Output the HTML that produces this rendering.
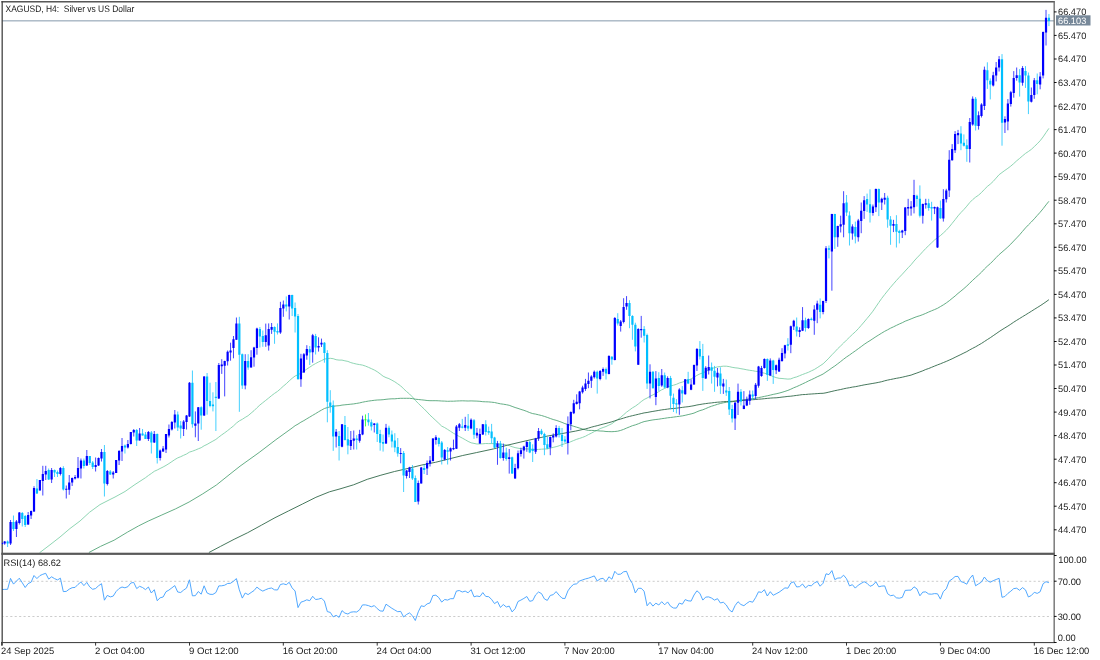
<!DOCTYPE html><html><head><meta charset="utf-8"><title>XAGUSD, H4</title>
<style>html,body{margin:0;padding:0;background:#fff}svg{display:block}text{font-family:"Liberation Sans",sans-serif;font-size:9.4px;fill:#1a1a1a;text-rendering:geometricPrecision}</style></head><body>
<svg width="1100" height="660" viewBox="0 0 1100 660">
<rect width="1100" height="660" fill="#fff"/>
<rect x="2" y="20.1" width="1052.0" height="1.4" fill="#a8b6c4"/>
<polyline points="39.5,552.8 50.0,544.8 60.0,537.0 70.0,528.5 80.0,521.0 89.5,512.3 100.0,504.6 110.0,499.5 115.0,497.0 125.0,491.5 135.0,484.5 145.5,477.7 148.4,475.5 151.3,473.5 154.3,471.3 157.2,470.0 160.1,468.5 163.1,467.0 166.0,465.4 168.9,463.6 171.9,461.6 174.8,459.6 177.7,457.9 180.7,456.7 183.6,455.3 186.5,454.0 189.5,452.1 192.4,451.2 195.3,450.1 198.3,448.8 201.2,447.7 204.1,445.8 207.1,444.4 210.0,442.7 212.9,441.1 215.9,439.4 218.8,437.1 221.7,434.9 224.7,432.8 227.6,430.6 230.5,428.3 233.5,425.9 236.4,423.1 239.3,420.9 242.3,419.3 245.2,417.4 248.1,415.7 251.1,413.1 254.0,410.7 256.9,407.8 259.9,405.0 262.8,402.7 265.7,400.4 268.7,398.0 271.6,395.6 274.5,393.4 277.5,391.4 280.4,388.9 283.3,386.2 286.3,383.7 289.2,380.9 292.1,378.3 295.1,376.0 298.0,374.7 300.9,373.2 303.9,371.1 306.8,369.1 309.7,367.2 312.7,365.2 315.6,363.5 318.5,362.0 321.5,360.6 324.4,359.1 327.3,358.6 330.3,358.3 333.2,358.7 336.1,359.7 339.1,360.1 342.0,360.1 344.9,360.8 347.9,361.4 350.8,362.6 353.7,363.4 356.7,364.1 359.6,364.6 362.5,365.1 365.5,366.1 368.4,367.3 371.3,368.6 374.3,370.0 377.2,371.7 380.1,373.8 383.1,376.2 386.0,377.6 388.9,378.6 391.9,380.2 394.8,381.8 397.7,383.8 400.7,385.9 403.6,388.8 406.5,391.5 409.5,394.0 412.4,396.9 415.3,400.3 418.3,403.4 421.2,406.2 424.1,408.9 427.1,412.0 430.0,415.1 432.9,417.8 435.9,420.6 438.8,423.3 441.7,426.1 444.7,427.6 447.6,429.4 450.5,431.3 453.5,433.3 456.4,434.8 459.3,436.5 462.3,438.1 465.2,439.7 468.1,441.4 471.1,442.8 474.0,443.4 476.9,444.0 479.9,443.9 482.8,443.8 485.7,443.5 488.7,443.6 491.6,443.6 494.5,443.7 497.5,443.7 500.4,444.1 503.3,444.4 506.3,444.9 509.2,445.6 512.1,446.7 515.1,447.6 518.0,448.2 520.9,448.7 523.9,448.9 526.8,448.9 529.7,449.1 532.7,449.6 535.6,449.6 538.5,449.4 541.5,449.2 544.4,449.0 547.3,448.9 550.3,448.1 553.2,447.4 556.1,446.7 559.1,445.8 562.0,444.6 564.9,443.7 567.9,442.9 570.8,441.7 573.7,440.5 576.7,439.3 579.6,438.4 582.5,437.4 585.5,436.2 588.4,434.6 591.3,433.2 594.3,431.6 597.2,430.2 600.1,428.6 603.1,427.5 606.0,426.5 608.9,425.1 611.9,423.7 614.8,421.5 617.7,419.6 620.7,417.3 623.6,414.8 626.5,412.2 629.5,410.0 632.4,407.9 635.3,406.2 638.3,404.0 641.2,401.6 644.1,399.5 647.1,398.0 650.0,396.3 652.9,394.9 655.9,393.4 658.8,391.6 661.7,389.8 664.7,388.4 667.6,387.0 670.5,386.0 673.5,385.2 676.4,384.3 679.3,383.0 682.3,382.1 685.2,381.1 688.1,380.1 691.1,378.9 694.0,377.2 696.9,375.4 699.9,373.9 702.8,372.9 705.7,371.5 708.7,370.0 711.6,368.6 714.5,367.7 717.5,366.9 720.4,366.5 723.3,366.2 726.3,366.2 729.2,366.6 732.1,367.3 735.1,367.8 738.0,368.1 740.9,368.7 743.9,369.2 746.8,369.8 749.7,370.3 752.7,370.7 755.6,371.3 758.5,371.5 761.5,372.5 764.4,373.2 767.3,374.2 770.3,375.3 773.2,376.6 776.1,377.6 779.1,378.3 782.0,378.5 784.9,378.8 787.9,379.1 790.8,378.9 793.7,377.7 796.7,376.9 799.6,375.7 802.5,374.5 805.5,373.4 808.4,372.3 811.3,370.9 814.3,369.5 817.2,367.7 820.1,365.8 823.1,363.8 826.0,361.0 828.9,358.1 831.9,354.8 834.8,351.9 837.7,348.7 840.7,345.9 843.6,343.0 846.5,340.1 849.5,337.2 852.4,334.4 855.3,331.8 858.3,328.7 861.2,325.4 864.1,322.0 867.1,318.4 870.0,314.9 872.9,311.2 875.9,306.8 878.8,302.5 881.7,298.4 884.7,294.5 887.6,290.9 890.5,287.3 893.5,283.8 896.4,280.5 899.3,277.3 902.3,274.2 905.2,271.0 908.1,267.8 911.1,264.7 914.0,261.1 916.9,257.9 919.9,254.8 922.8,251.6 925.7,248.5 928.7,245.6 931.6,242.8 934.5,240.0 937.5,237.7 940.4,235.6 943.3,233.0 946.3,230.2 949.2,227.0 952.1,223.4 955.1,219.7 958.0,215.9 960.9,212.6 963.9,209.5 966.8,206.2 969.7,202.6 972.7,199.6 975.6,197.2 978.5,195.2 981.5,192.5 984.4,189.4 987.3,186.5 990.3,184.1 993.2,181.4 996.1,178.1 999.1,174.7 1002.0,172.5 1004.9,170.4 1007.9,168.3 1010.8,166.1 1013.7,163.6 1016.7,160.8 1019.6,158.4 1022.5,155.9 1025.5,153.4 1028.4,151.5 1031.3,149.4 1034.3,146.6 1037.2,143.8 1040.1,140.8 1043.1,136.9 1046.0,132.6 1048.9,128.4" fill="none" stroke="#82d0aa" stroke-width="0.9" stroke-linejoin="round"/>
<polyline points="88.9,552.5 100.5,546.4 114.1,540.2 127.7,532.0 138.6,525.9 148.2,521.1 161.8,515.0 175.5,508.9 189.1,502.0 202.7,493.9 216.4,485.0 230.0,474.1 240.0,466.2 259.1,452.5 275.9,439.7 292.1,428.0 295.1,425.7 298.0,424.1 300.9,422.2 303.9,420.6 306.8,418.8 309.7,417.1 312.7,415.3 315.6,413.6 318.5,411.8 321.5,410.1 324.4,408.5 327.3,407.6 330.3,406.8 333.2,406.3 336.1,405.9 339.1,405.7 342.0,405.1 344.9,404.8 347.9,404.5 350.8,404.2 353.7,403.9 356.7,403.4 359.6,402.9 362.5,402.2 365.5,401.6 368.4,401.1 371.3,400.7 374.3,400.3 377.2,400.0 380.1,399.9 383.1,399.7 386.0,399.3 388.9,399.0 391.9,398.8 394.8,398.8 397.7,398.5 400.7,398.3 403.6,398.3 406.5,398.3 409.5,398.3 412.4,398.6 415.3,399.2 418.3,399.5 421.2,399.8 424.1,400.1 427.1,400.5 430.0,400.7 432.9,400.7 435.9,400.7 438.8,400.8 441.7,401.0 444.7,401.1 447.6,401.3 450.5,401.2 453.5,401.2 456.4,401.0 459.3,400.9 462.3,400.8 465.2,400.9 468.1,401.0 471.1,400.9 474.0,401.0 476.9,401.1 479.9,401.3 482.8,401.7 485.7,401.8 488.7,401.9 491.6,402.2 494.5,402.5 497.5,403.2 500.4,403.8 503.3,404.2 506.3,404.7 509.2,405.3 512.1,406.4 515.1,407.5 518.0,408.4 520.9,409.4 523.9,410.3 526.8,411.4 529.7,412.6 532.7,413.6 535.6,414.1 538.5,414.8 541.5,415.5 544.4,416.4 547.3,417.4 550.3,418.5 553.2,419.5 556.1,420.3 559.1,421.3 562.0,422.4 564.9,423.6 567.9,424.5 570.8,425.3 573.7,426.3 576.7,427.2 579.6,428.1 582.5,429.0 585.5,429.8 588.4,430.4 591.3,430.4 594.3,430.5 597.2,430.7 600.1,431.0 603.1,431.1 606.0,431.5 608.9,431.6 611.9,431.7 614.8,431.5 617.7,431.2 620.7,430.4 623.6,429.4 626.5,428.1 629.5,426.9 632.4,425.7 635.3,424.9 638.3,423.8 641.2,422.6 644.1,421.6 647.1,421.0 650.0,420.4 652.9,419.9 655.9,419.5 658.8,419.2 661.7,418.7 664.7,418.3 667.6,417.8 670.5,417.5 673.5,417.1 676.4,416.7 679.3,416.3 682.3,415.9 685.2,415.3 688.1,414.6 691.1,413.9 694.0,413.1 696.9,411.8 699.9,410.6 702.8,409.8 705.7,408.6 708.7,407.3 711.6,406.2 714.5,405.3 717.5,404.3 720.4,403.5 723.3,402.8 726.3,402.3 729.2,402.0 732.1,401.8 735.1,401.2 738.0,400.6 740.9,400.1 743.9,399.7 746.8,399.2 749.7,398.9 752.7,398.6 755.6,398.2 758.5,397.6 761.5,397.0 764.4,396.4 767.3,395.8 770.3,395.1 773.2,394.4 776.1,393.8 779.1,393.1 782.0,392.3 784.9,391.4 787.9,390.4 790.8,389.2 793.7,387.8 796.7,386.6 799.6,385.3 802.5,383.9 805.5,382.5 808.4,381.0 811.3,379.7 814.3,378.3 817.2,376.8 820.1,375.5 823.1,374.0 826.0,372.0 828.9,370.1 831.9,367.9 834.8,366.0 837.7,363.8 840.7,361.5 843.6,359.2 846.5,357.0 849.5,355.0 852.4,352.9 855.3,350.9 858.3,348.7 861.2,346.6 864.1,344.4 867.1,342.4 870.0,340.6 872.9,338.7 875.9,336.7 878.8,334.9 881.7,333.1 884.7,331.3 887.6,329.8 890.5,328.2 893.5,326.8 896.4,325.4 899.3,324.0 902.3,322.7 905.2,321.2 908.1,320.1 911.1,318.9 914.0,317.7 916.9,316.6 919.9,315.7 922.8,314.6 925.7,313.4 928.7,312.0 931.6,310.8 934.5,309.6 937.5,308.3 940.4,306.6 943.3,304.9 946.3,302.9 949.2,300.8 952.1,298.4 955.1,296.0 958.0,293.4 960.9,291.1 963.9,288.6 966.8,286.0 969.7,283.2 972.7,280.3 975.6,277.6 978.5,275.0 981.5,272.2 984.4,269.0 987.3,266.2 990.3,263.6 993.2,260.7 996.1,257.6 999.1,254.6 1002.0,252.1 1004.9,249.6 1007.9,246.9 1010.8,244.1 1013.7,241.0 1016.7,237.9 1019.6,234.8 1022.5,231.4 1025.5,227.9 1028.4,224.9 1031.3,222.0 1034.3,218.8 1037.2,215.5 1040.1,212.3 1043.1,208.7 1046.0,204.9 1048.9,201.3" fill="none" stroke="#55a578" stroke-width="0.9" stroke-linejoin="round"/>
<polyline points="208.9,552.5 220.5,546.4 234.1,539.3 247.7,532.7 261.4,525.2 275.0,517.7 288.6,510.9 302.3,504.1 315.9,497.3 329.5,491.8 340.0,488.9 353.6,484.8 367.3,479.3 380.9,475.2 394.5,471.5 408.2,468.4 421.8,465.0 435.5,462.3 449.1,458.9 462.7,455.5 476.4,452.6 493.6,448.9 507.3,445.2 520.9,442.0 534.5,438.9 548.2,435.9 561.8,433.6 575.5,431.1 585.5,428.9 588.4,428.1 591.3,427.2 594.3,426.4 597.2,425.7 600.1,424.9 603.1,424.1 606.0,423.4 608.9,422.6 611.9,421.8 614.8,420.8 617.7,419.8 620.7,419.0 623.6,418.1 626.5,417.2 629.5,416.4 632.4,415.7 635.3,415.0 638.3,414.3 641.2,413.6 644.1,412.9 647.1,412.5 650.0,411.9 652.9,411.4 655.9,410.9 658.8,410.4 661.7,409.9 664.7,409.5 667.6,409.1 670.5,408.7 673.5,408.5 676.4,408.2 679.3,407.8 682.3,407.4 685.2,407.0 688.1,406.7 691.1,406.2 694.0,405.7 696.9,405.0 699.9,404.5 702.8,404.0 705.7,403.6 708.7,403.2 711.6,402.9 714.5,402.5 717.5,402.2 720.4,402.0 723.3,401.7 726.3,401.5 729.2,401.4 732.1,401.3 735.1,401.1 738.0,400.9 740.9,400.7 743.9,400.4 746.8,400.2 749.7,399.9 752.7,399.7 755.6,399.5 758.5,399.2 761.5,399.0 764.4,398.7 767.3,398.4 770.3,398.1 773.2,397.9 776.1,397.8 779.1,397.5 782.0,397.1 784.9,396.8 787.9,396.4 790.8,396.2 793.7,395.8 796.7,395.4 799.6,395.0 802.5,394.6 805.5,394.5 808.4,394.2 811.3,394.0 814.3,393.8 817.2,393.6 820.1,393.4 823.1,393.3 826.0,392.8 828.9,392.1 831.9,391.4 834.8,390.7 837.7,390.1 840.7,389.5 843.6,388.8 846.5,388.2 849.5,387.7 852.4,387.1 855.3,386.7 858.3,386.1 861.2,385.5 864.1,384.9 867.1,384.4 870.0,383.9 872.9,383.4 875.9,382.9 878.8,382.3 881.7,381.7 884.7,380.8 887.6,380.1 890.5,379.5 893.5,378.9 896.4,378.3 899.3,377.8 902.3,377.2 905.2,376.5 908.1,375.8 911.1,375.1 914.0,374.0 916.9,373.0 919.9,371.9 922.8,370.8 925.7,369.5 928.7,368.5 931.6,367.3 934.5,366.1 937.5,364.9 940.4,363.8 943.3,362.6 946.3,361.4 949.2,360.1 952.1,358.8 955.1,357.3 958.0,355.9 960.9,354.5 963.9,353.0 966.8,351.6 969.7,349.9 972.7,348.3 975.6,346.8 978.5,345.1 981.5,343.4 984.4,341.5 987.3,339.6 990.3,337.7 993.2,335.7 996.1,333.7 999.1,331.6 1002.0,329.7 1004.9,327.9 1007.9,326.1 1010.8,324.2 1013.7,322.2 1016.7,320.3 1019.6,318.5 1022.5,316.7 1025.5,314.9 1028.4,313.1 1031.3,311.3 1034.3,309.4 1037.2,307.6 1040.1,305.8 1043.1,303.8 1046.0,301.8 1048.9,299.7" fill="none" stroke="#32694b" stroke-width="0.9" stroke-linejoin="round"/>
<path d="M4.68 541.0V544.8M10.55 520.0V545.0M16.42 520.0V537.0M19.35 512.0V524.5M28.15 512.0V525.0M31.08 510.5V519.0M34.02 486.2V512.0M39.88 480.0V490.5M42.82 465.8V495.5M45.75 465.8V480.0M51.62 468.0V483.0M60.42 467.0V475.5M66.28 485.5V498.5M69.22 475.0V494.8M72.15 477.5V486.0M75.08 475.0V479.5M78.02 457.0V478.5M80.95 458.5V478.5M86.82 450.0V466.0M95.62 457.5V471.5M98.55 457.5V466.0M101.48 449.0V461.5M107.35 470.0V485.5M113.22 471.0V478.5M116.15 460.0V473.0M119.08 450.0V465.0M122.02 438.0V461.0M127.88 440.0V448.5M130.82 432.0V444.5M133.75 429.0V436.5M139.62 428.0V440.5M148.42 431.0V441.0M154.28 431.0V443.0M160.15 449.5V460.5M163.08 446.0V452.0M166.02 434.0V453.0M168.95 424.5V437.5M171.88 421.0V430.5M174.82 410.0V428.5M183.62 420.0V436.0M186.55 415.0V429.5M189.48 382.0V417.0M195.35 411.4V437.3M198.28 407.0V441.0M204.15 376.0V416.0M218.82 363.0V399.0M221.75 359.2V373.9M224.68 360.7V396.4M227.62 350.5V365.5M230.55 342.7V360.7M233.48 336.0V358.3M236.42 317.5V340.0M245.22 354.2V389.3M251.08 350.2V367.6M254.02 346.8V366.7M256.95 327.7V354.7M265.75 323.6V346.8M268.68 323.4V350.6M271.62 323.0V333.9M280.42 301.8V333.9M283.35 300.5V316.8M289.22 294.7V319.5M300.95 353.8V386.8M303.88 353.0V372.8M306.82 345.2V359.7M312.68 333.9V362.7M318.55 337.3V351.6M321.48 338.6V347.0M336.15 429.0V447.5M342.02 424.0V447.3M350.82 431.0V450.0M353.75 430.5V449.5M359.62 429.8V442.7M362.55 415.7V435.2M374.28 423.0V432.5M386.02 423.9V444.0M400.68 448.1V463.3M406.55 470.0V478.5M409.48 466.8V478.0M418.28 480.5V504.5M421.22 467.0V483.5M427.08 460.5V475.0M430.02 456.0V466.5M432.95 438.0V461.5M435.88 435.2V444.6M444.68 449.0V460.5M450.55 447.5V460.5M453.48 439.6V450.1M456.42 425.0V449.0M459.35 423.0V431.0M465.22 416.8V431.0M471.08 418.4V429.3M476.95 428.0V438.2M479.88 428.6V443.8M482.82 424.0V435.0M497.48 440.9V464.8M503.35 443.6V460.7M509.22 449.0V473.6M515.08 463.8V478.8M518.02 450.5V469.5M520.95 447.7V456.6M523.88 445.7V458.6M526.82 440.9V451.8M535.62 437.9V453.9M538.55 428.0V440.9M550.28 436.5V455.2M553.22 433.4V442.3M556.15 425.2V437.5M567.88 416.4V454.5M570.82 411.4V430.3M573.75 399.8V414.1M576.68 394.3V404.5M579.62 390.9V409.3M582.55 385.7V393.6M585.48 378.9V390.9M588.42 372.5V388.2M591.35 375.2V387.9M594.28 370.5V378.6M600.15 370.0V380.3M603.08 367.5V375.9M608.95 355.2V374.4M614.82 317.0V360.4M620.68 320.0V331.6M623.62 298.2V323.4M626.55 296.1V309.8M638.28 328.2V365.0M641.22 315.9V337.7M650.02 364.3V398.4M655.88 371.1V405.2M661.75 369.0V386.8M667.62 376.3V388.2M679.35 388.2V414.8M685.22 379.0V394.7M691.08 379.3V390.2M694.02 364.5V384.8M696.95 348.0V371.0M705.75 366.2V379.0M708.68 355.5V374.5M717.48 368.0V386.4M723.35 378.9V393.9M735.08 402.0V430.0M738.02 383.6V415.0M743.88 391.1V409.2M746.82 396.6V406.1M749.75 390.5V404.8M755.62 383.0V399.3M758.55 365.9V387.7M761.48 365.9V376.8M764.42 358.4V368.6M770.28 358.4V376.1M776.15 364.5V374.1M779.08 357.7V372.0M782.02 348.2V361.8M784.95 344.8V358.4M790.82 325.6V353.2M793.75 319.8V330.0M799.62 327.3V337.1M802.55 307.1V331.1M808.42 318.4V328.9M814.28 305.2V334.8M817.22 300.7V323.2M823.08 300.7V314.3M826.02 246.1V303.0M831.88 213.8V290.7M837.75 225.7V246.8M840.68 215.7V232.5M843.62 191.2V237.3M852.42 224.3V239.7M858.28 218.9V241.6M861.22 202.5V233.2M864.15 196.1V218.9M872.95 204.5V215.7M875.88 188.5V212.0M881.75 197.7V210.0M884.68 193.0V204.5M893.48 219.8V232.1M902.28 229.8V238.0M905.22 207.0V235.2M908.15 198.8V215.7M911.08 201.1V215.7M914.02 179.8V213.4M922.82 203.5V223.6M925.75 198.8V208.6M934.55 206.6V214.1M937.48 206.6V247.9M943.35 189.2V221.6M946.28 188.8V202.5M949.22 150.2V197.0M952.15 144.1V160.7M955.08 131.1V153.0M958.02 129.9V144.1M969.75 118.0V162.5M972.68 96.4V125.7M978.55 111.4V129.6M981.48 103.2V117.5M984.42 66.6V110.0M993.22 71.8V86.5M996.15 62.0V81.4M999.08 56.1V71.5M1004.95 116.3V133.0M1007.88 99.1V130.3M1010.82 90.9V106.6M1013.75 71.1V97.7M1016.68 67.5V80.7M1022.55 66.1V85.7M1031.35 87.5V102.5M1034.28 78.0V98.8M1040.15 72.1V89.3M1043.08 31.5V78.4M1046.02 9.9V45.5" stroke="#0000ff" stroke-width="0.74" fill="none"/>
<path d="M7.62 540.5V547.0M13.48 515.5V531.0M22.28 512.0V526.5M25.22 515.0V527.0M36.95 479.0V494.0M48.68 468.5V480.0M54.55 469.5V477.0M57.48 470.5V477.0M63.35 466.2V490.5M83.88 458.5V468.5M89.75 456.0V465.0M92.68 461.0V469.0M104.42 445.0V496.5M110.28 470.0V475.0M124.95 444.5V453.5M136.68 429.0V446.0M142.55 429.0V435.5M145.48 432.0V439.0M151.35 431.0V453.5M157.22 433.5V463.5M177.75 411.5V431.0M180.68 421.0V438.5M192.42 370.5V427.7M201.22 406.3V429.7M207.08 373.0V414.7M210.02 382.7V407.3M212.95 392.3V411.4M215.88 382.0V431.0M239.35 316.8V411.8M242.28 353.5V388.9M248.15 354.2V369.8M259.88 327.0V347.5M262.82 330.5V346.8M274.55 326.4V343.8M277.48 323.4V334.5M286.28 296.4V311.4M292.15 294.7V316.0M295.08 302.5V332.5M298.02 314.0V379.5M309.75 346.0V365.0M315.62 333.9V354.5M324.42 342.0V362.7M327.35 350.2V422.3M330.28 390.2V412.7M333.22 400.5V450.9M339.08 431.0V460.5M344.95 416.0V440.5M347.88 427.0V454.3M356.68 435.2V449.5M368.42 413.0V425.7M371.35 419.5V430.5M377.22 422.5V442.0M380.15 429.8V450.7M383.08 434.5V451.6M388.95 425.7V437.3M391.88 430.5V447.5M394.82 433.2V452.2M397.75 438.0V456.7M403.62 451.0V492.0M412.42 465.0V480.0M415.35 475.5V502.0M424.15 464.5V474.0M438.82 437.3V446.5M441.75 441.0V464.5M447.62 447.0V464.5M462.28 418.9V428.4M468.15 414.0V431.0M474.02 419.0V438.9M485.75 420.2V435.5M488.68 426.6V434.8M491.62 423.9V443.6M494.55 436.8V448.4M500.42 440.9V458.6M506.28 447.7V460.7M512.15 456.6V474.0M529.75 440.9V453.2M532.68 444.3V462.0M541.48 428.9V435.2M544.42 432.7V455.2M547.35 436.8V449.1M559.08 425.9V437.5M562.02 428.0V447.0M564.95 436.1V443.0M597.22 370.5V393.6M606.02 367.5V379.5M611.88 356.1V364.7M617.75 313.2V325.5M629.48 300.2V328.2M632.42 315.2V339.8M635.35 322.7V351.4M644.15 326.1V342.5M647.08 333.6V388.9M652.95 371.1V388.5M658.82 372.2V390.9M664.68 372.5V388.2M670.55 375.9V409.3M673.48 393.6V412.0M676.42 399.1V413.4M682.28 386.1V402.5M688.15 371.8V384.1M699.88 341.1V359.5M702.82 343.9V390.9M711.62 362.5V383.6M714.55 365.9V391.8M720.42 367.3V393.9M726.28 379.5V395.9M729.22 387.0V415.0M732.15 404.8V422.5M740.95 389.1V405.5M752.68 390.5V400.0M767.35 358.4V380.9M773.22 359.8V383.9M787.88 338.2V350.5M796.68 317.5V336.5M805.48 317.7V331.6M811.35 317.5V320.5M820.15 298.4V318.4M828.95 245.5V258.4M834.82 213.8V248.9M846.55 195.0V216.1M849.48 211.4V245.5M855.35 221.6V243.4M867.08 193.6V212.0M870.02 189.3V222.5M878.82 188.5V216.1M887.62 195.7V227.7M890.55 216.1V244.8M896.42 215.2V247.5M899.35 229.8V243.4M916.95 194.7V206.6M919.88 185.4V217.5M928.68 198.8V210.7M931.62 201.8V220.6M940.42 200.5V218.9M960.95 126.2V150.2M963.88 134.4V146.5M966.82 139.3V161.8M975.62 97.0V130.5M987.35 62.3V88.9M990.28 78.4V99.4M1002.02 54.1V145.7M1019.62 69.1V96.6M1025.48 66.1V87.9M1028.42 72.5V114.1M1037.22 73.5V94.3M1048.95 14.0V26.1" stroke="#00bfff" stroke-width="0.74" fill="none"/>
<path d="M365.48 414.4V426.4" stroke="#00ff00" stroke-width="0.74" fill="none"/>
<path d="M4.68 541.5V543.6M10.55 522.0V543.5M16.42 521.5V529.0M19.35 512.5V523.0M28.15 515.0V524.5M31.08 511.0V515.5M34.02 488.0V511.5M39.88 480.0V490.5M42.82 474.0V481.0M45.75 471.0V474.5M51.62 470.0V479.5M60.42 468.0V474.0M66.28 488.8V489.8M69.22 482.5V489.7M72.15 478.0V482.5M75.08 477.0V478.5M78.02 468.0V477.8M80.95 460.5V468.5M86.82 456.0V465.5M95.62 465.0V467.0M98.55 458.0V465.5M101.48 452.0V458.5M107.35 471.0V484.0M113.22 472.5V474.5M116.15 460.0V473.0M119.08 451.0V460.5M122.02 446.0V451.5M127.88 444.0V447.5M130.82 432.0V444.0M133.75 430.0V432.5M139.62 433.5V440.5M148.42 432.0V439.0M154.28 434.0V442.5M160.15 450.5V458.0M163.08 448.5V451.5M166.02 434.0V449.5M168.95 429.0V435.5M171.88 422.0V429.5M174.82 414.5V422.5M183.62 421.5V429.0M186.55 415.5V422.0M189.48 382.7V416.5M195.35 423.6V425.7M198.28 407.3V423.6M204.15 376.6V415.5M218.82 365.0V398.4M221.75 364.4V366.3M224.68 361.0V365.8M227.62 351.8V361.3M230.55 350.6V352.5M233.48 339.3V348.0M236.42 323.4V339.7M245.22 361.0V385.5M251.08 357.2V367.4M254.02 347.5V357.6M256.95 328.4V347.9M265.75 335.2V342.0M268.68 329.0V345.5M271.62 327.0V329.8M280.42 308.0V332.5M283.35 304.5V308.6M289.22 295.0V306.6M300.95 358.6V379.3M303.88 354.2V372.5M306.82 348.9V355.6M312.68 335.2V352.3M318.55 346.0V347.5M321.48 342.7V344.4M336.15 431.8V436.6M342.02 424.3V446.8M350.82 440.0V446.0M353.75 438.6V440.7M359.62 433.9V440.7M362.55 419.5V434.5M374.28 423.4V425.0M386.02 427.7V443.4M400.68 452.9V453.9M406.55 470.5V476.0M409.48 467.5V472.0M418.28 483.0V501.5M421.22 467.5V483.5M427.08 463.0V468.5M430.02 460.5V463.5M432.95 438.5V461.0M435.88 437.3V440.0M444.68 450.0V459.4M450.55 448.2V451.6M453.48 448.0V449.2M456.42 426.4V448.7M459.35 424.3V427.7M465.22 425.0V427.7M471.08 419.8V428.6M476.95 432.7V435.5M479.88 434.0V443.6M482.82 424.3V434.4M497.48 443.6V447.0M503.35 452.5V458.0M509.22 457.3V458.9M515.08 467.9V478.4M518.02 453.2V468.2M520.95 450.2V453.9M523.88 446.4V450.5M526.82 442.0V447.0M535.62 438.5V451.8M538.55 431.1V438.5M550.28 437.1V447.5M553.22 435.5V437.5M556.15 428.0V436.5M567.88 423.9V443.0M570.82 412.0V424.3M573.75 403.2V413.3M576.68 401.8V403.9M579.62 391.6V403.2M582.55 387.5V392.3M585.48 383.4V388.9M588.42 380.7V384.1M591.35 376.6V380.7M594.28 371.8V377.3M600.15 371.1V379.0M603.08 369.1V371.8M608.95 356.1V373.9M614.82 318.0V360.0M620.68 321.4V326.1M623.62 307.0V322.0M626.55 303.0V306.6M638.28 328.9V364.7M641.22 328.9V330.2M650.02 371.8V383.4M655.88 378.6V397.0M661.75 375.2V385.5M667.62 378.0V387.5M679.35 389.5V404.5M685.22 379.3V394.3M691.08 384.4V389.8M694.02 365.0V384.4M696.95 348.9V365.4M705.75 367.7V378.6M708.68 367.0V370.5M717.48 372.7V377.5M723.35 383.6V386.4M735.08 402.7V418.4M738.02 391.8V402.7M743.88 405.5V408.9M746.82 399.3V405.5M749.75 394.5V400.7M755.62 384.7V395.9M758.55 366.6V385.7M761.48 368.0V376.1M764.42 359.1V368.0M770.28 360.5V375.5M776.15 365.2V370.3M779.08 359.8V371.6M782.02 353.0V361.1M784.95 345.2V353.6M790.82 326.2V344.7M793.75 320.7V326.6M799.62 330.0V332.0M802.55 320.2V330.7M808.42 319.1V328.0M814.28 309.5V320.7M817.22 303.4V309.8M823.08 301.1V312.0M826.02 248.2V301.1M831.88 214.1V251.6M837.75 226.1V237.3M840.68 224.3V226.4M843.62 203.2V224.7M852.42 226.4V233.5M858.28 220.6V237.3M861.22 210.7V220.9M864.15 200.2V211.1M872.95 206.6V213.0M875.88 188.9V207.3M881.75 198.8V202.5M884.68 197.7V199.8M893.48 223.9V225.7M902.28 230.5V232.5M905.22 207.5V231.1M908.15 207.0V208.6M911.08 206.6V208.4M914.02 195.0V207.3M922.82 203.9V215.7M925.75 203.2V204.8M934.55 207.0V208.6M937.48 207.3V247.5M943.35 199.1V218.5M946.28 190.5V199.2M949.22 159.8V190.5M952.15 148.9V160.2M955.08 133.9V150.2M958.02 133.0V135.2M969.75 122.0V148.9M972.68 98.8V124.5M978.55 115.3V126.0M981.48 104.5V116.1M984.42 69.8V105.9M993.22 75.2V85.5M996.15 67.5V75.6M999.08 59.3V67.5M1004.95 118.9V122.5M1007.88 103.5V121.6M1010.82 92.3V103.9M1013.75 78.0V93.0M1016.68 75.2V78.0M1022.55 68.0V82.7M1031.35 95.0V101.8M1034.28 80.3V95.0M1040.15 76.6V84.4M1043.08 32.1V75.6M1046.02 17.8V32.5" stroke="#0000ff" stroke-width="2.2" fill="none"/>
<path d="M7.62 541.5V543.5M13.48 522.0V529.0M22.28 513.0V519.0M25.22 516.0V525.0M36.95 488.5V493.5M48.68 470.0V479.5M54.55 470.0V472.5M57.48 472.0V474.0M63.35 468.0V489.5M83.88 460.5V466.0M89.75 456.0V463.0M92.68 462.5V467.0M104.42 452.0V483.5M110.28 471.5V474.5M124.95 445.5V447.5M136.68 430.0V440.5M142.55 433.5V435.5M145.48 434.5V439.0M151.35 432.5V442.5M157.22 434.0V458.0M177.75 414.5V427.5M180.68 425.5V428.5M192.42 382.7V424.3M201.22 407.3V415.5M207.08 376.6V401.0M210.02 401.0V406.0M212.95 404.5V406.2M215.88 396.8V398.0M239.35 323.4V354.7M242.28 354.3V385.5M248.15 361.0V367.4M259.88 329.0V336.6M262.82 335.9V342.0M274.55 327.0V331.8M277.48 331.0V332.5M286.28 304.5V306.6M292.15 295.0V308.6M295.08 308.0V316.5M298.02 316.1V379.3M309.75 349.3V352.4M315.62 335.9V347.5M324.42 342.7V353.0M327.35 353.0V401.8M330.28 402.5V406.6M333.22 405.2V436.6M339.08 436.0V446.0M344.95 425.0V440.0M347.88 439.3V445.5M356.68 438.6V440.0M368.42 419.5V422.3M371.35 422.3V426.4M377.22 423.4V433.9M380.15 433.9V442.7M383.08 442.0V443.8M388.95 427.7V434.5M391.88 434.5V441.4M394.82 440.6V447.5M397.75 446.9V453.6M403.62 453.0V475.5M412.42 468.5V478.5M415.35 478.0V502.0M424.15 468.0V470.0M438.82 438.0V444.0M441.75 442.6V457.4M447.62 450.3V451.8M462.28 426.4V427.7M468.15 425.7V428.4M474.02 420.2V434.8M485.75 424.3V432.0M488.68 431.0V432.7M491.62 431.4V438.2M494.55 437.5V447.7M500.42 443.6V458.0M506.28 452.5V458.9M512.15 457.3V473.6M529.75 442.0V452.5M532.68 448.8V451.1M541.48 430.7V434.1M544.42 434.1V445.0M547.35 444.3V448.4M559.08 428.0V434.8M562.02 434.8V440.9M564.95 439.5V441.6M597.22 371.8V378.6M606.02 369.1V373.5M611.88 356.8V359.5M617.75 318.9V323.4M629.48 303.0V315.9M632.42 315.9V324.8M635.35 324.8V346.6M644.15 328.9V335.7M647.08 335.0V383.4M652.95 371.8V388.2M658.82 378.0V386.1M664.68 375.2V387.5M670.55 378.0V395.7M673.48 397.7V403.9M676.42 403.2V404.5M682.28 390.2V393.6M688.15 379.3V383.4M699.88 348.9V356.4M702.82 356.1V378.0M711.62 367.3V370.7M714.55 370.7V376.8M720.42 373.4V385.7M726.28 390.5V392.5M729.22 391.1V409.5M732.15 408.9V418.4M740.95 391.8V401.4M752.68 394.5V396.6M767.35 359.1V374.8M773.22 360.5V370.0M787.88 344.3V345.7M796.68 326.6V331.4M805.48 320.2V328.0M811.35 318.8V319.9M820.15 304.8V312.0M828.95 248.2V249.8M834.82 214.1V237.3M846.55 202.5V212.5M849.48 215.5V233.2M855.35 227.0V236.6M867.08 199.1V204.5M870.02 204.3V212.7M878.82 188.9V202.5M887.62 197.7V219.5M890.55 219.5V225.7M896.42 223.9V231.8M899.35 231.1V232.9M916.95 195.7V199.1M919.88 198.8V215.7M928.68 203.2V208.0M931.62 207.0V208.6M940.42 208.0V218.2M960.95 133.5V143.4M963.88 142.7V145.7M966.82 145.2V148.9M975.62 98.8V125.7M987.35 70.2V80.3M990.28 80.7V84.4M1002.02 59.3V122.7M1019.62 75.2V82.5M1025.48 71.1V75.6M1028.42 75.6V101.5M1037.22 80.3V84.1M1048.95 17.8V21.0" stroke="#00bfff" stroke-width="2.2" fill="none"/>
<path d="M365.48 419.5V420.2" stroke="#00ff00" stroke-width="2.2" fill="none"/>
<line x1="2.5" x2="1051.6" y1="581.3" y2="581.3" stroke="#c6c6c6" stroke-width="0.9" stroke-dasharray="2.1 2.33" stroke-dashoffset="1.1"/>
<line x1="2.5" x2="1051.6" y1="616.5" y2="616.5" stroke="#c6c6c6" stroke-width="0.9" stroke-dasharray="2.1 2.33" stroke-dashoffset="1.1"/>
<polyline points="2.0,589.5 4.7,589.4 7.6,589.3 10.5,578.4 13.5,584.1 16.4,581.2 19.3,578.2 22.3,582.8 25.2,587.5 28.1,583.6 31.1,582.2 34.0,575.5 36.9,578.6 39.9,575.6 42.8,574.3 45.7,573.3 48.7,579.1 51.6,576.8 54.5,578.6 57.5,579.9 60.4,578.2 63.3,591.6 66.3,591.4 69.2,589.2 72.1,587.7 75.1,587.4 78.0,584.4 80.9,582.0 83.9,585.6 86.8,582.4 89.7,586.9 92.7,589.3 95.6,588.5 98.5,585.8 101.5,583.7 104.4,600.2 107.3,595.4 110.3,596.9 113.2,596.1 116.1,591.5 119.1,588.5 122.0,587.0 124.9,587.8 127.9,586.7 130.8,583.0 133.7,582.4 136.7,588.6 139.6,586.3 142.5,587.5 145.5,589.6 148.4,587.0 151.3,593.0 154.3,589.7 157.2,600.7 160.1,597.8 163.1,597.0 166.0,591.7 168.9,590.1 171.9,587.8 174.8,585.6 177.7,592.0 180.7,592.5 183.6,590.1 186.5,588.1 189.5,579.8 192.4,595.8 195.3,595.7 198.3,591.5 201.2,594.2 204.1,585.8 207.1,593.0 210.0,594.3 212.9,594.4 215.9,592.5 218.8,585.9 221.7,585.8 224.7,585.2 227.6,583.5 230.5,583.3 233.5,581.2 236.4,578.6 239.3,589.8 242.3,598.1 245.2,593.0 248.1,594.6 251.1,592.5 254.0,590.6 256.9,587.1 259.9,589.5 262.8,591.1 265.7,589.7 268.7,588.5 271.6,588.0 274.5,589.8 277.5,590.0 280.4,584.5 283.3,583.8 286.3,584.7 289.2,582.3 292.1,587.9 295.1,591.0 298.0,607.6 300.9,602.2 303.9,601.2 306.8,599.8 309.7,600.7 312.7,596.3 315.6,599.5 318.5,599.1 321.5,598.2 324.4,601.1 327.3,611.6 330.3,612.4 333.2,616.9 336.1,615.3 339.1,617.4 342.0,610.6 344.9,613.1 347.9,614.0 350.8,612.2 353.7,611.8 356.7,612.0 359.6,609.8 362.5,604.9 365.5,604.9 368.4,605.6 371.3,606.8 374.3,605.6 377.2,608.6 380.1,610.9 383.1,611.2 386.0,604.2 388.9,606.2 391.9,608.3 394.8,610.0 397.7,611.7 400.7,611.4 403.6,617.0 406.5,614.5 409.5,612.9 412.4,615.7 415.3,620.5 418.3,611.8 421.2,605.8 424.1,606.5 427.1,603.9 430.0,602.9 432.9,595.5 435.9,595.2 438.8,597.6 441.7,602.1 444.7,599.5 447.6,600.1 450.5,598.7 453.5,598.7 456.4,591.1 459.3,590.5 462.3,592.0 465.2,591.1 468.1,592.8 471.1,589.7 474.0,596.8 476.9,596.0 479.9,596.6 482.8,592.6 485.7,596.4 488.7,596.7 491.6,599.4 494.5,603.6 497.5,601.5 500.4,607.4 503.3,604.5 506.3,607.0 509.2,606.1 512.1,611.9 515.1,608.7 518.0,601.5 520.9,600.1 523.9,598.4 526.8,596.5 529.7,601.3 532.7,600.6 535.6,594.9 538.5,592.0 541.5,593.6 544.4,598.9 547.3,600.4 550.3,595.4 553.2,594.7 556.1,591.6 559.1,595.2 562.0,598.2 564.9,598.6 567.9,590.9 570.8,586.9 573.7,584.3 576.7,583.8 579.6,581.0 582.5,579.9 585.5,578.9 588.4,578.2 591.3,577.1 594.3,575.9 597.2,581.0 600.1,578.9 603.1,578.3 606.0,581.7 608.9,576.8 611.9,579.2 614.8,571.3 617.7,574.4 620.7,574.1 623.6,571.8 626.5,571.3 629.5,578.8 632.4,583.5 635.3,593.0 638.3,588.3 641.2,588.3 644.1,591.2 647.1,605.8 650.0,602.3 652.9,606.1 655.9,603.2 658.8,605.0 661.7,601.7 664.7,604.8 667.6,601.9 670.5,606.2 673.5,608.0 676.4,608.1 679.3,603.1 682.3,604.2 685.2,599.6 688.1,600.8 691.1,601.1 694.0,595.0 696.9,590.8 699.9,593.4 702.8,600.1 705.7,597.1 708.7,596.9 711.6,598.1 714.5,600.1 717.5,598.7 720.4,603.0 723.3,602.2 726.3,605.0 729.2,609.8 732.1,612.0 735.1,605.6 738.0,601.7 740.9,604.5 743.9,605.7 746.8,603.3 749.7,601.4 752.7,602.2 755.6,597.6 758.5,591.8 761.5,592.4 764.4,589.7 767.3,596.0 770.3,591.7 773.2,595.3 776.1,593.8 779.1,592.2 782.0,590.1 784.9,587.9 787.9,588.2 790.8,583.0 793.7,581.8 796.7,587.0 799.6,586.6 802.5,584.0 805.5,587.9 808.4,585.4 811.3,585.8 814.3,583.0 817.2,581.5 820.1,586.2 823.1,583.2 826.0,573.8 828.9,574.6 831.9,570.6 834.8,579.6 837.7,578.1 840.7,577.9 843.6,575.2 846.5,578.7 849.5,585.9 852.4,584.7 855.3,588.1 858.3,585.1 861.2,583.4 864.1,581.7 867.1,583.3 870.0,586.3 872.9,585.1 875.9,581.8 878.8,586.8 881.7,586.1 884.7,585.9 887.6,593.7 890.5,595.7 893.5,595.2 896.4,597.8 899.3,598.2 902.3,597.4 905.2,590.4 908.1,590.2 911.1,590.1 914.0,586.8 916.9,588.8 919.9,595.8 922.8,592.1 925.7,591.9 928.7,594.0 931.6,594.2 934.5,593.6 937.5,593.8 940.4,599.1 943.3,591.6 946.3,588.8 949.2,581.1 952.1,579.1 955.1,576.5 958.0,576.4 960.9,581.5 963.9,582.6 966.8,584.2 969.7,578.6 972.7,575.0 975.6,585.8 978.5,583.9 981.5,582.0 984.4,577.0 987.3,580.7 990.3,582.2 993.2,580.7 996.1,579.5 999.1,578.3 1002.0,597.3 1004.9,596.5 1007.9,593.4 1010.8,591.2 1013.7,588.6 1016.7,588.2 1019.6,590.3 1022.5,587.6 1025.5,589.9 1028.4,597.0 1031.3,595.5 1034.3,592.3 1037.2,593.4 1040.1,591.8 1043.1,583.7 1046.0,581.7 1048.9,582.7" fill="none" stroke="#3d9eff" stroke-width="0.9" stroke-linejoin="round"/>
<rect x="1.35" y="1.15" width="1053.4" height="1.3" fill="#3c3c3c"/>
<rect x="1.55" y="1.15" width="1.25" height="644.4" fill="#3c3c3c"/>
<rect x="1053.5" y="1.15" width="1.35" height="641.5" fill="#6c6c6c"/>
<rect x="1.3" y="552.7" width="1053.4" height="2.2" fill="#595959"/>
<rect x="1.3" y="642.0" width="1053.4" height="1.1" fill="#484848"/>
<rect x="1.9" y="542.8" width="1.2" height="1.4" fill="#0000ff"/>
<rect x="1054.0" y="11.4" width="2.6" height="1" fill="#111"/>
<text x="1058.0" y="15.3" textLength="28.3" lengthAdjust="spacingAndGlyphs">66.470</text>
<rect x="1054.0" y="34.9" width="2.6" height="1" fill="#111"/>
<text x="1058.0" y="38.8" textLength="28.3" lengthAdjust="spacingAndGlyphs">65.470</text>
<rect x="1054.0" y="58.5" width="2.6" height="1" fill="#111"/>
<text x="1058.0" y="62.4" textLength="28.3" lengthAdjust="spacingAndGlyphs">64.470</text>
<rect x="1054.0" y="82.0" width="2.6" height="1" fill="#111"/>
<text x="1058.0" y="85.9" textLength="28.3" lengthAdjust="spacingAndGlyphs">63.470</text>
<rect x="1054.0" y="105.6" width="2.6" height="1" fill="#111"/>
<text x="1058.0" y="109.5" textLength="28.3" lengthAdjust="spacingAndGlyphs">62.470</text>
<rect x="1054.0" y="129.1" width="2.6" height="1" fill="#111"/>
<text x="1058.0" y="133.0" textLength="28.3" lengthAdjust="spacingAndGlyphs">61.470</text>
<rect x="1054.0" y="152.6" width="2.6" height="1" fill="#111"/>
<text x="1058.0" y="156.5" textLength="28.3" lengthAdjust="spacingAndGlyphs">60.470</text>
<rect x="1054.0" y="176.2" width="2.6" height="1" fill="#111"/>
<text x="1058.0" y="180.1" textLength="28.3" lengthAdjust="spacingAndGlyphs">59.470</text>
<rect x="1054.0" y="199.7" width="2.6" height="1" fill="#111"/>
<text x="1058.0" y="203.6" textLength="28.3" lengthAdjust="spacingAndGlyphs">58.470</text>
<rect x="1054.0" y="223.3" width="2.6" height="1" fill="#111"/>
<text x="1058.0" y="227.2" textLength="28.3" lengthAdjust="spacingAndGlyphs">57.470</text>
<rect x="1054.0" y="246.8" width="2.6" height="1" fill="#111"/>
<text x="1058.0" y="250.7" textLength="28.3" lengthAdjust="spacingAndGlyphs">56.470</text>
<rect x="1054.0" y="270.3" width="2.6" height="1" fill="#111"/>
<text x="1058.0" y="274.2" textLength="28.3" lengthAdjust="spacingAndGlyphs">55.470</text>
<rect x="1054.0" y="293.9" width="2.6" height="1" fill="#111"/>
<text x="1058.0" y="297.8" textLength="28.3" lengthAdjust="spacingAndGlyphs">54.470</text>
<rect x="1054.0" y="317.4" width="2.6" height="1" fill="#111"/>
<text x="1058.0" y="321.3" textLength="28.3" lengthAdjust="spacingAndGlyphs">53.470</text>
<rect x="1054.0" y="341.0" width="2.6" height="1" fill="#111"/>
<text x="1058.0" y="344.9" textLength="28.3" lengthAdjust="spacingAndGlyphs">52.470</text>
<rect x="1054.0" y="364.5" width="2.6" height="1" fill="#111"/>
<text x="1058.0" y="368.4" textLength="28.3" lengthAdjust="spacingAndGlyphs">51.470</text>
<rect x="1054.0" y="388.0" width="2.6" height="1" fill="#111"/>
<text x="1058.0" y="391.9" textLength="28.3" lengthAdjust="spacingAndGlyphs">50.470</text>
<rect x="1054.0" y="411.6" width="2.6" height="1" fill="#111"/>
<text x="1058.0" y="415.5" textLength="28.3" lengthAdjust="spacingAndGlyphs">49.470</text>
<rect x="1054.0" y="435.1" width="2.6" height="1" fill="#111"/>
<text x="1058.0" y="439.0" textLength="28.3" lengthAdjust="spacingAndGlyphs">48.470</text>
<rect x="1054.0" y="458.7" width="2.6" height="1" fill="#111"/>
<text x="1058.0" y="462.6" textLength="28.3" lengthAdjust="spacingAndGlyphs">47.470</text>
<rect x="1054.0" y="482.2" width="2.6" height="1" fill="#111"/>
<text x="1058.0" y="486.1" textLength="28.3" lengthAdjust="spacingAndGlyphs">46.470</text>
<rect x="1054.0" y="505.7" width="2.6" height="1" fill="#111"/>
<text x="1058.0" y="509.6" textLength="28.3" lengthAdjust="spacingAndGlyphs">45.470</text>
<rect x="1054.0" y="529.3" width="2.6" height="1" fill="#111"/>
<text x="1058.0" y="533.2" textLength="28.3" lengthAdjust="spacingAndGlyphs">44.470</text>
<rect x="1056" y="15.3" width="34.5" height="10.2" fill="#778899"/>
<text x="1058.0" y="23.9" textLength="28.3" lengthAdjust="spacingAndGlyphs" style="fill:#fff">66.103</text>
<rect x="1054.0" y="555.0" width="2.6" height="1" fill="#111"/>
<text x="1058.3" y="563.3" textLength="28.4" lengthAdjust="spacingAndGlyphs">100.00</text>
<rect x="1054.0" y="580.7" width="2.6" height="1" fill="#111"/>
<text x="1057.7" y="584.7" textLength="23.3" lengthAdjust="spacingAndGlyphs">70.00</text>
<rect x="1054.0" y="615.9" width="2.6" height="1" fill="#111"/>
<text x="1057.7" y="619.8" textLength="23.3" lengthAdjust="spacingAndGlyphs">30.00</text>
<rect x="1054.0" y="642.0" width="2.6" height="1" fill="#111"/>
<text x="1057.7" y="641.0" textLength="18.1" lengthAdjust="spacingAndGlyphs">0.00</text>
<text x="5.6" y="11.8" textLength="128.7" lengthAdjust="spacingAndGlyphs">XAGUSD, H4:&#160; Silver vs US Dollar</text>
<text x="3.5" y="565.8" textLength="57.5" lengthAdjust="spacingAndGlyphs">RSI(14) 68.62</text>
<rect x="1.2" y="642" width="1" height="3.6" fill="#333"/>
<text x="1.1" y="653.9" textLength="53.0" lengthAdjust="spacingAndGlyphs">24 Sep 2025</text>
<rect x="95.1" y="642" width="1" height="3.6" fill="#333"/>
<text x="95.0" y="653.9" textLength="49.7" lengthAdjust="spacingAndGlyphs">2 Oct 04:00</text>
<rect x="189.0" y="642" width="1" height="3.6" fill="#333"/>
<text x="188.9" y="653.9" textLength="49.7" lengthAdjust="spacingAndGlyphs">9 Oct 12:00</text>
<rect x="282.8" y="642" width="1" height="3.6" fill="#333"/>
<text x="282.7" y="653.9" textLength="54.8" lengthAdjust="spacingAndGlyphs">16 Oct 20:00</text>
<rect x="376.7" y="642" width="1" height="3.6" fill="#333"/>
<text x="376.6" y="653.9" textLength="54.8" lengthAdjust="spacingAndGlyphs">24 Oct 04:00</text>
<rect x="470.6" y="642" width="1" height="3.6" fill="#333"/>
<text x="470.5" y="653.9" textLength="54.8" lengthAdjust="spacingAndGlyphs">31 Oct 12:00</text>
<rect x="564.4" y="642" width="1" height="3.6" fill="#333"/>
<text x="564.3" y="653.9" textLength="50.4" lengthAdjust="spacingAndGlyphs">7 Nov 20:00</text>
<rect x="658.3" y="642" width="1" height="3.6" fill="#333"/>
<text x="658.2" y="653.9" textLength="55.6" lengthAdjust="spacingAndGlyphs">17 Nov 04:00</text>
<rect x="752.2" y="642" width="1" height="3.6" fill="#333"/>
<text x="752.1" y="653.9" textLength="55.6" lengthAdjust="spacingAndGlyphs">24 Nov 12:00</text>
<rect x="846.0" y="642" width="1" height="3.6" fill="#333"/>
<text x="845.9" y="653.9" textLength="50.4" lengthAdjust="spacingAndGlyphs">1 Dec 20:00</text>
<rect x="939.9" y="642" width="1" height="3.6" fill="#333"/>
<text x="939.8" y="653.9" textLength="50.4" lengthAdjust="spacingAndGlyphs">9 Dec 04:00</text>
<rect x="1033.8" y="642" width="1" height="3.6" fill="#333"/>
<text x="1033.7" y="653.9" textLength="55.6" lengthAdjust="spacingAndGlyphs">16 Dec 12:00</text>
</svg></body></html>
